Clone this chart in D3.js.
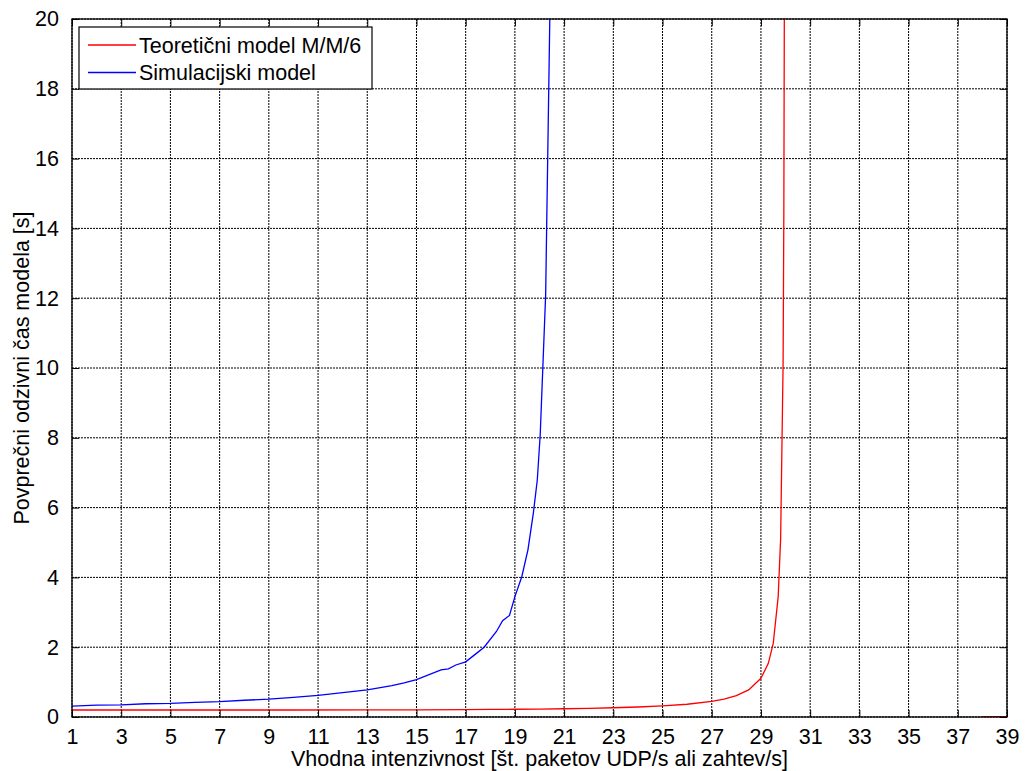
<!DOCTYPE html>
<html><head><meta charset="utf-8">
<script src="https://cdn.jsdelivr.net/npm/d3@7"></script>
<style>body{margin:0;background:#fff}svg{display:block}text{font-family:"Liberation Sans",Arial,sans-serif;fill:#000}</style>
</head><body>
<script>
// Data
const xTicks = [1,3,5,7,9,11,13,15,17,19,21,23,25,27,29,31,33,35,37,39];
const yTicks = [0,2,4,6,8,10,12,14,16,18,20];
const theoryX = [1,5,10,13,15,17,18,19,20,21,22,23,24,25,26,27,27.5,28,28.5,29,29.3,29.5,29.7,29.8,29.9,29.93,29.95,29.96];
const theoryY = [0.200,0.200,0.201,0.203,0.207,0.212,0.216,0.222,0.228,0.237,0.249,0.265,0.286,0.318,0.365,0.447,0.512,0.611,0.777,1.109,1.537,2.108,3.441,5.108,10.11,14.39,20.1,25];
const theoryTailX = [38,39];
const theoryTailY = [0,0];
const simX = [1,2,3,4,5,6,7,8,9,10,11,12,13,14,14.5,15,16,16.3,16.6,17,17.45,17.75,18.25,18.5,18.78,19,19.28,19.53,19.75,19.91,20.03,20.25,20.44];
const simY = [0.31,0.34,0.35,0.38,0.39,0.42,0.44,0.48,0.51,0.56,0.62,0.70,0.78,0.90,0.98,1.07,1.35,1.38,1.49,1.58,1.83,2.00,2.45,2.76,2.91,3.45,4.02,4.79,5.84,6.79,8.1,12.1,21];
const seriesNames = ["Teoretični model M/M/6","Simulacijski model"];
const seriesColors = ["#ff0000","#0000ff"];

const W=1025,H=771, L=72,R=1007,T=19,B=717, FS=21.5;
const svg=d3.select("body").append("svg").attr("width",W).attr("height",H);
const x=d3.scaleLinear().domain([1,39]).range([L,R]);
const y=d3.scaleLinear().domain([0,20]).range([B,T]);

// grid
const g=svg.append("g");
g.selectAll(".gx").data(xTicks).join("line").attr("x1",d=>x(d)).attr("x2",d=>x(d)).attr("y1",T).attr("y2",B)
 .attr("stroke","#000").attr("stroke-dasharray","2,1");
g.selectAll(".gy").data(yTicks).join("line").attr("y1",d=>y(d)).attr("y2",d=>y(d)).attr("x1",L).attr("x2",R)
 .attr("stroke","#000").attr("stroke-dasharray","2,1");

// curves
svg.append("clipPath").attr("id","clip").append("rect").attr("x",L).attr("y",T).attr("width",R-L).attr("height",B-T);
const line=d3.line().x(d=>x(d[0])).y(d=>y(d[1]));
const cg=svg.append("g").attr("clip-path","url(#clip)");
cg.append("path").datum(theoryX.map((v,i)=>[v,theoryY[i]])).attr("d",line).attr("fill","none").attr("stroke",seriesColors[0]).attr("stroke-width",1.3);
cg.append("path").datum(theoryTailX.map((v,i)=>[v,theoryTailY[i]])).attr("d",line).attr("fill","none").attr("stroke",seriesColors[0]).attr("stroke-width",2);
cg.append("path").datum(simX.map((v,i)=>[v,simY[i]])).attr("d",line).attr("fill","none").attr("stroke",seriesColors[1]).attr("stroke-width",1.3);

// axes with inward ticks on all sides
const tl=7;
const ax=svg.append("g").attr("transform",`translate(0,${B})`).call(d3.axisBottom(x).tickValues(xTicks).tickSizeInner(-tl).tickSizeOuter(0).tickPadding(12));
const ay=svg.append("g").attr("transform",`translate(${L},0)`).call(d3.axisLeft(y).tickValues(yTicks).tickSizeInner(-tl).tickSizeOuter(0).tickPadding(13));
const axT=svg.append("g").attr("transform",`translate(0,${T})`).call(d3.axisTop(x).tickValues(xTicks).tickSizeInner(-tl).tickSizeOuter(0).tickFormat(""));
const ayR=svg.append("g").attr("transform",`translate(${R},0)`).call(d3.axisRight(y).tickValues(yTicks).tickSizeInner(-tl).tickSizeOuter(0).tickFormat(""));
[ax,ay,axT,ayR].forEach(a=>{a.select(".domain").remove();a.selectAll("line").attr("stroke","#000");a.selectAll("text").attr("font-size",FS).attr("font-family","Liberation Sans, Arial, sans-serif").attr("fill","#000");});
svg.append("rect").attr("x",L).attr("y",T).attr("width",R-L).attr("height",B-T).attr("fill","none").attr("stroke","#000").attr("stroke-width",1.3);

// axis labels
svg.append("text").attr("x",(L+R)/2).attr("y",766).attr("text-anchor","middle").attr("font-size",FS).text("Vhodna intenzivnost [št. paketov UDP/s ali zahtev/s]");
svg.append("text").attr("transform",`translate(29,${(T+B)/2}) rotate(-90)`).attr("text-anchor","middle").attr("font-size",FS).text("Povprečni odzivni čas modela [s]");

// legend
const lg=svg.append("g");
lg.append("rect").attr("x",79).attr("y",27).attr("width",293).attr("height",62).attr("fill","#fff").attr("stroke","#000").attr("stroke-width",1.2);
seriesNames.forEach((n,i)=>{
  const cy=45+i*27.5;
  lg.append("line").attr("x1",88).attr("x2",136).attr("y1",cy).attr("y2",cy).attr("stroke",seriesColors[i]).attr("stroke-width",1.3);
  lg.append("text").attr("x",139).attr("y",cy+7.5).attr("font-size",FS).text(n);
});
</script>
</body></html>
